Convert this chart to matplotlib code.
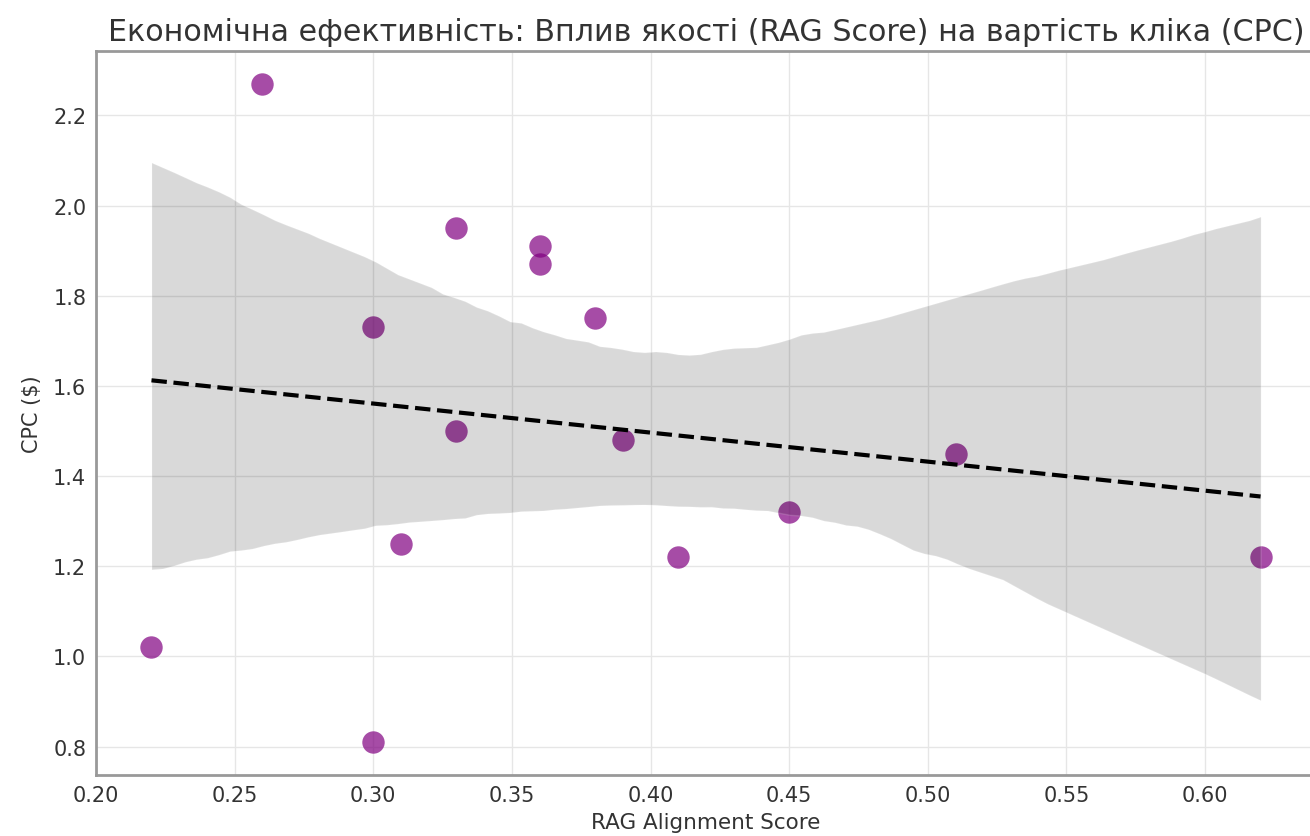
import numpy as np
import pandas as pd
import matplotlib
matplotlib.use("Agg")
import matplotlib.pyplot as plt
import seaborn as sns

# RAG score vs CPC
rag_score = [0.22, 0.26, 0.30, 0.30, 0.31, 0.33, 0.33, 0.36, 0.36, 0.38, 0.39, 0.41, 0.45, 0.51, 0.62]
cpc = [1.02, 2.27, 1.73, 0.81, 1.25, 1.95, 1.50, 1.91, 1.87, 1.75, 1.48, 1.22, 1.32, 1.45, 1.22]

df = pd.DataFrame({"rag": rag_score, "cpc": cpc})

sns.set_style("whitegrid")
plt.rcParams['font.family'] = ['DejaVu Sans']

fig = plt.figure(figsize=(13.1, 8.37), dpi=100)
ax = fig.add_axes([0.0733, 0.0729, 0.9313, 0.865])

sns.regplot(data=df, x="rag", y="cpc", ax=ax, seed=1,
            scatter_kws={"color": "purple", "alpha": 0.7, "s": 260, "linewidths": 0},
            line_kws={"color": "black", "linestyle": "--", "linewidth": 3})

ax.set_xlim(0.20, 0.64)
ax.set_ylim(0.737, 2.343)
ax.set_xticks(np.arange(0.20, 0.601, 0.05))
ax.set_yticks(np.arange(0.8, 2.21, 0.2))
ax.tick_params(labelsize=15, colors="#333333")
ax.grid(color="#e6e6e6", linewidth=1)
for s in ax.spines.values():
    s.set_color("#999999")
    s.set_linewidth(2)

ax.set_title("Економічна ефективність: Вплив якості (RAG Score) на вартість кліка (CPC)",
             fontsize=21.7, color="#333333", pad=8)
ax.set_xlabel("RAG Alignment Score", fontsize=15.5, color="#333333", labelpad=5)
ax.set_ylabel("CPC ($)", fontsize=15, color="#333333", labelpad=8)

fig.savefig("out.png", dpi=100)
